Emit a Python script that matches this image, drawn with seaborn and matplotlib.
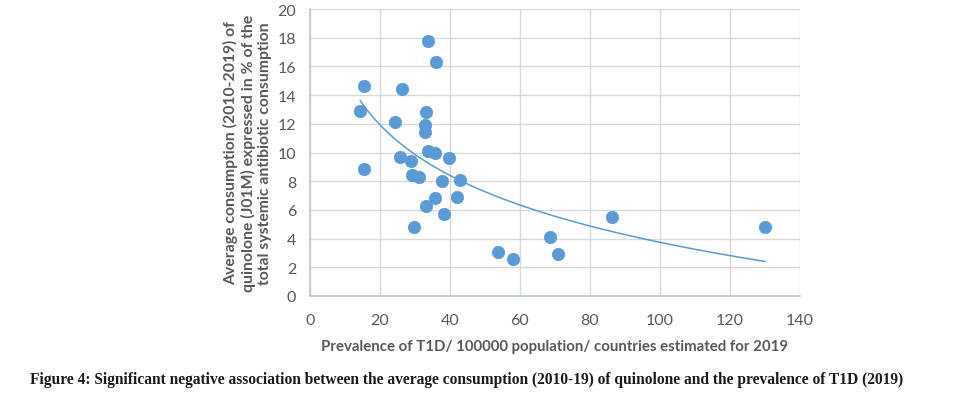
import numpy as np
import pandas as pd
import matplotlib
matplotlib.use("Agg")
import matplotlib.pyplot as plt
import seaborn as sns

prevalence = [14.3, 15.5, 15.5, 24.4, 25.7, 26.4, 28.9, 29.2, 29.6, 31.2,
              33.1, 33.0, 32.95, 33.1, 33.6, 33.7, 35.6, 35.7, 36.0, 37.7,
              38.3, 39.8, 42.0, 42.8, 53.8, 58.1, 68.5, 71.0, 86.3, 130.1]
consumption = [12.9, 14.6, 8.85, 12.1, 9.7, 14.4, 9.4, 8.4, 4.8, 8.3,
               12.8, 11.95, 11.4, 6.3, 17.8, 10.1, 6.8, 10.0, 16.3, 8.0,
               5.7, 9.6, 6.9, 8.1, 3.1, 2.6, 4.1, 2.9, 5.5, 4.8]
x_ticks = [0, 20, 40, 60, 80, 100, 120, 140]
y_ticks = [0, 2, 4, 6, 8, 10, 12, 14, 16, 18, 20]

df = pd.DataFrame({"prev": prevalence, "cons": consumption})

sns.set_theme(style="white")
plt.rcParams['font.family'] = ['Lato', 'DejaVu Sans']

blue = "#5B9BD5"
gray_txt = "#595959"
grid_c = "#D9D9D9"

fig = plt.figure(figsize=(9.54, 4.10), dpi=100)
ax = fig.add_axes([310/954, 1-297/410, 490/954, 287/410])

sns.regplot(data=df, x="prev", y="cons", logx=True, ci=None, scatter=False,
            line_kws=dict(color=blue, lw=1.1), ax=ax)
sns.scatterplot(data=df, x="prev", y="cons", color=blue, s=80, edgecolor=blue,
                linewidth=0.5, ax=ax, zorder=3)

ax.set_xlim(0, 140)
ax.set_ylim(0, 20)
ax.set_xticks(x_ticks)
ax.set_yticks(y_ticks)
ax.grid(True, color=grid_c, lw=1.0)
ax.set_axisbelow(True)
for s in ["top", "right"]:
    ax.spines[s].set_visible(False)
for s in ["left", "bottom"]:
    ax.spines[s].set_color("#BFCAD6")
    ax.spines[s].set_linewidth(1.2)
ax.tick_params(axis="both", length=0, labelsize=11.5, labelcolor=gray_txt, pad=12)
ax.tick_params(axis="y", pad=10)

ax.set_xlabel("Prevalence of T1D/ 100000 population/ countries estimated for 2019",
              fontsize=10.8, fontweight="bold", color=gray_txt, labelpad=9)
ax.set_ylabel("Average consumption (2010-2019) of\nquinolone (J01M) expressed in % of the\ntotal systemic antibiotic consumption",
              fontsize=11.3, fontweight="bold", color=gray_txt, labelpad=4, linespacing=1.2)

fig.text(467/954, 1-380/410,
         "Figure 4: Significant negative association between the average consumption (2010-19) of quinolone and the prevalence of T1D (2019)",
         ha="center", va="center", fontsize=11.2, fontweight="bold",
         family=["Liberation Serif"], color="#1a1a1a")

fig.savefig("out.png", dpi=100, facecolor="white")
